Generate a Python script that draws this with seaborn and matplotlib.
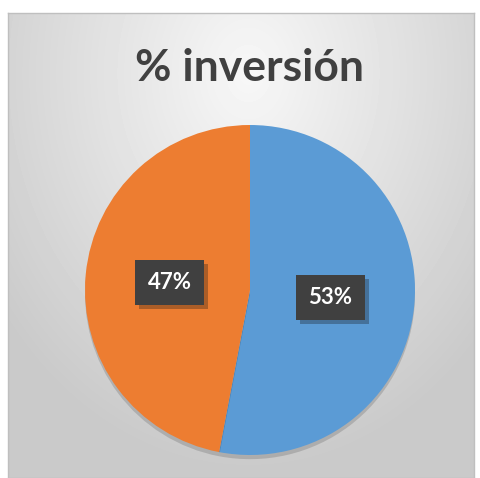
import numpy as np
import matplotlib
matplotlib.use("Agg")
import matplotlib.pyplot as plt
import matplotlib.patheffects as pe
import seaborn as sns

# datos del gráfico
etiquetas = ["A", "B"]
valores = [53, 47]
colores = ["#5B9BD5", "#ED7D31"]
titulo = "% inversión"

sns.set_theme(style="white")
plt.rcParams['font.family'] = ['Lato', 'DejaVu Sans']

W, H = 480, 478
fig = plt.figure(figsize=(W / 100, H / 100), dpi=100)
fig.patch.set_facecolor("white")

# fondo con degradado radial
bg = fig.add_axes([8 / W, 0, 466 / W, (H - 13) / H])
yy, xx = np.mgrid[0:465, 0:466]
d = np.sqrt(((xx - 240) / 330.0) ** 2 + ((yy - 60) / 420.0) ** 2)
grad = np.clip(0.97 - 0.19 * d, 0.79, 0.97)
bg.imshow(grad, cmap="gray", vmin=0, vmax=1, aspect="auto", interpolation="bilinear")
bg.set_xticks([])
bg.set_yticks([])
for s in bg.spines.values():
    s.set_color("#bfbfbf")
    s.set_linewidth(1)

# titulo
fig.text(249 / W, 1 - 68 / H, titulo, ha="center", va="center",
         fontsize=32, fontweight="bold", color="#404040")

# pastel
cx, cy, r = 250, 290, 165
ax = fig.add_axes([(cx - r) / W, (H - cy - r) / H, 2 * r / W, 2 * r / H])
wedges, textos, pcts = ax.pie(valores, colors=colores, startangle=90, counterclock=False,
                              autopct="%1.0f%%", pctdistance=0.49,
                              wedgeprops=dict(linewidth=0),
                              textprops=dict(color="white", fontsize=16, fontweight="bold"))
ax.set_xlim(-1, 1)
ax.set_ylim(-1, 1)
for w in wedges:
    w.set_path_effects([pe.SimplePatchShadow(offset=(0, -3), shadow_rgbFace="#000000", alpha=0.15),
                        pe.Normal()])
for t in pcts:
    t.set_bbox(dict(boxstyle="square,pad=0.55", facecolor="#404040", edgecolor="none"))
    t.get_bbox_patch().set_path_effects([pe.SimplePatchShadow(offset=(3, -3), alpha=0.3), pe.Normal()])

fig.savefig("out.png", dpi=100)
